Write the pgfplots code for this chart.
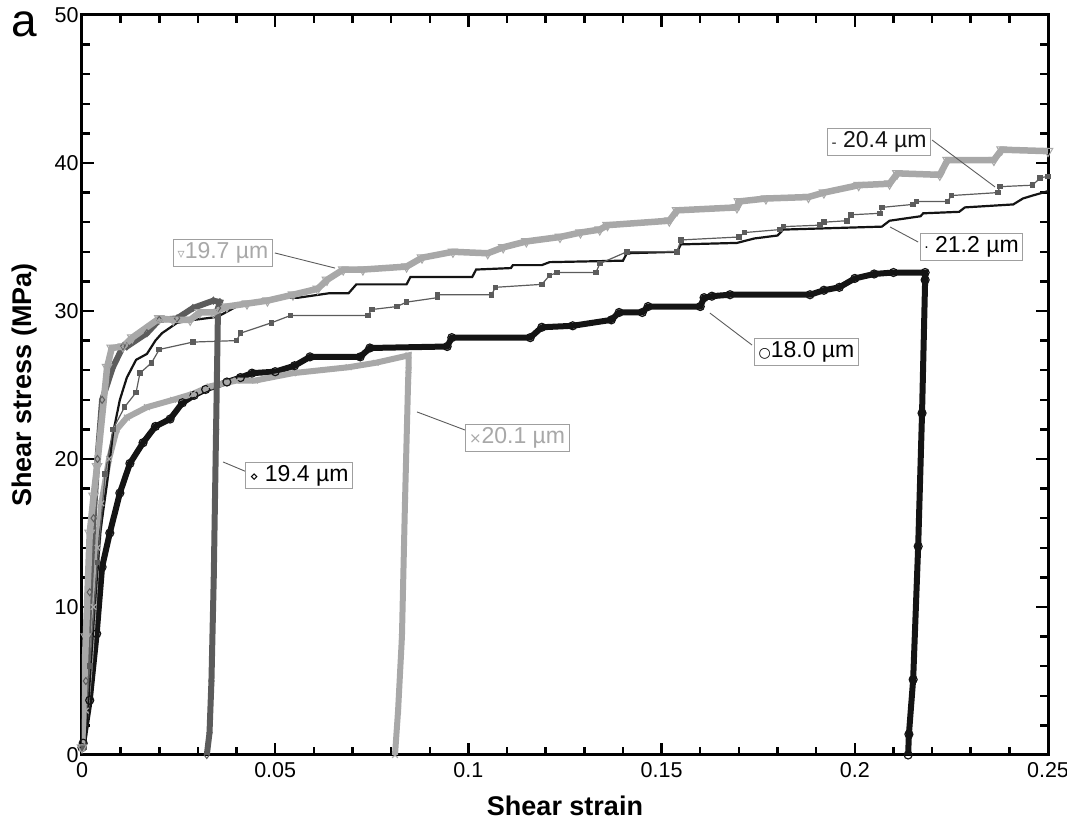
\documentclass[border=0pt]{standalone}
\usepackage{pgfplots}
\pgfplotsset{compat=1.18}
\usepackage{fontspec}
\setmainfont{Liberation Sans}
\newfontfamily\symfont{DejaVu Sans}
\definecolor{lg}{gray}{0.66}
\definecolor{dg}{gray}{0.36}
\definecolor{bk}{gray}{0.08}
\begin{document}
\begin{tikzpicture}
\begin{axis}[
  scale only axis, width=966pt, height=740pt,
  xmin=0, xmax=0.25, ymin=0, ymax=50,
  xtick={0,0.05,0.1,0.15,0.2,0.25},
  xticklabels={0,0.05,0.1,0.15,0.2,0.25},
  ytick={0,10,20,30,40,50},
  yticklabels={0,10,20,30,40,50},
  minor x tick num=4, minor y tick num=4,
  tick align=inside,
  major tick length=12pt, minor tick length=8pt,
  every tick/.style={line width=2.5pt, black},
  axis line style={line width=3pt},
  /pgf/number format/assume math mode=true,
  ticklabel style={font=\fontsize{21.5}{24}\selectfont},
  xticklabel style={yshift=-4pt},
  xlabel={Shear strain}, ylabel={Shear stress (MPa)},
  label style={font=\bfseries\fontsize{27}{30}\selectfont},
  xlabel style={at={(axis description cs:0.5,0)}, anchor=base, yshift=-60pt},
  ylabel style={at={(axis description cs:0,0.5)}, anchor=center, yshift=57pt},
]
% 18.0 um
\addplot[bk, line width=6pt, mark=o, mark size=4pt, mark options={line width=1.2pt, bk}] coordinates {
(0,0.5) (0.0003,0.8) (0.002,3.7) (0.0038,8.2) (0.0052,12.7) (0.0072,15) (0.0098,17.7)
(0.0124,19.7) (0.0158,21.1) (0.019,22.2) (0.0228,22.7) (0.026,23.8) (0.029,24.3)
(0.032,24.7) (0.0375,25.2) (0.041,25.5) (0.044,25.8) (0.05,25.9) (0.055,26.3)
(0.059,26.9) (0.072,26.9) (0.0745,27.5) (0.0945,27.6) (0.0957,28.2) (0.116,28.2)
(0.119,28.9) (0.127,29.0) (0.137,29.4) (0.139,29.9) (0.145,29.9) (0.1465,30.3)
(0.160,30.3) (0.161,30.9) (0.163,31.0) (0.1677,31.1) (0.1884,31.1) (0.192,31.4)
(0.196,31.6) (0.200,32.2) (0.205,32.5) (0.210,32.6) (0.2182,32.6)
(0.2182,32.1) (0.2174,23.1) (0.2164,14.1) (0.2151,5.1) (0.2140,1.4) (0.2138,0)
};
% 20.1 um
\addplot[lg, line width=6pt, mark=x, mark size=4pt, mark options={line width=1.2pt, lg}] coordinates {
(0,0.5) (0.001,3) (0.002,6) (0.003,10) (0.004,14) (0.005,17) (0.007,20) (0.009,22)
(0.0116,22.8) (0.0168,23.5) (0.0236,24) (0.0287,24.4) (0.033,24.9) (0.040,25.3)
(0.0448,25.3) (0.0546,25.8) (0.069,26.2) (0.076,26.5) (0.0845,27.0)
(0.0845,26) (0.0844,25.3) (0.0836,17.2) (0.0828,8) (0.0818,3) (0.081,0)
};
% 21.2 um
\addplot[bk, line width=2.2pt] coordinates {
(0.0008,0.5) (0.002,5) (0.003,9) (0.004,12.5) (0.0047,15) (0.0065,18.4) (0.008,21.7)
(0.0098,24) (0.0116,25.5) (0.014,26.7) (0.0168,27.1) (0.019,28) (0.0207,28.5)
(0.0246,29.2) (0.029,29.4) (0.035,29.6) (0.04,30.3) (0.05,30.9) (0.056,30.9)
(0.064,31.2) (0.069,31.2) (0.071,31.8) (0.084,31.8) (0.085,32.3) (0.101,32.3)
(0.102,32.8) (0.111,32.9) (0.1115,33.1) (0.119,33.1) (0.121,33.3) (0.14,33.4)
(0.141,33.9) (0.154,34) (0.155,34.5) (0.1695,34.6) (0.174,34.9) (0.18,35.1)
(0.1815,35.5) (0.207,35.7) (0.209,36.1) (0.217,36.4) (0.2177,36.6) (0.227,36.7)
(0.2285,37.0) (0.241,37.2) (0.2435,37.6) (0.246,37.8) (0.2487,38.0) (0.25,38.1)
};
% 20.4 um
\addplot[dg, line width=1.2pt, mark=square*, mark size=2.2pt, mark options={dg}] coordinates {
(0.0005,0.5) (0.002,6) (0.004,13) (0.006,19) (0.008,22) (0.011,23.5) (0.014,24.5)
(0.015,25.8) (0.018,26.5) (0.02,27.4) (0.0287,27.9) (0.040,28.0) (0.041,28.5)
(0.049,29.2) (0.054,29.7) (0.074,29.7) (0.075,30.1) (0.0815,30.3) (0.084,30.6)
(0.092,30.9) (0.092,31.1) (0.106,31.1) (0.107,31.6) (0.119,31.8) (0.121,32.4)
(0.123,32.6) (0.133,32.6) (0.134,33.2) (0.141,34.0) (0.154,34.0) (0.155,34.8)
(0.170,35.0) (0.1715,35.3) (0.1806,35.5) (0.1815,35.7) (0.191,35.8) (0.192,36.0)
(0.198,36.1) (0.199,36.5) (0.2065,36.6) (0.207,37.0) (0.215,37.2) (0.216,37.4)
(0.224,37.4) (0.225,37.8) (0.237,38.0) (0.2375,38.4) (0.246,38.5) (0.248,39.0) (0.25,39.1)
};
% 19.4 um
\addplot[dg, line width=6pt, mark=diamond, mark size=3.5pt, mark options={line width=1pt, dg}] coordinates {
(0,0.5) (0.001,5) (0.002,11) (0.003,16) (0.004,20) (0.0052,24) (0.008,26.2)
(0.0106,27.6) (0.0116,27.6) (0.0168,28.5) (0.020,29.4) (0.0246,29.5) (0.0287,30.2)
(0.034,30.7) (0.0357,30.6)
(0.0352,30.2) (0.0347,22) (0.0341,12) (0.0335,5) (0.033,1.5) (0.0323,0)
};
% 19.7 um
\addplot[lg, line width=6.5pt, mark=triangle, mark size=5.5pt, mark options={line width=1pt, lg, fill=white, rotate=180}] coordinates {
(0,0.5) (0.001,8) (0.002,15) (0.003,17.5) (0.0039,19.5) (0.0065,26.2) (0.0077,27.5)
(0.0106,27.6) (0.013,28.2) (0.020,29.5) (0.0236,29.4) (0.028,29.4) (0.0305,29.9)
(0.034,29.9) (0.0375,30.3) (0.0427,30.5) (0.048,30.7) (0.0546,31.1) (0.061,31.5)
(0.0634,32.1) (0.0676,32.8) (0.0727,32.8) (0.084,33.0) (0.088,33.6) (0.096,34.0)
(0.105,33.9) (0.109,34.3) (0.115,34.7) (0.1237,35.0) (0.129,35.3) (0.134,35.5)
(0.136,35.8) (0.152,36.1) (0.154,36.8) (0.1695,37.0) (0.170,37.4) (0.177,37.6)
(0.188,37.7) (0.192,38.0) (0.201,38.5) (0.209,38.6) (0.211,39.3) (0.222,39.2)
(0.224,40.2) (0.236,40.2) (0.238,40.9) (0.25,40.8)
};
% leader lines
\draw[dg, line width=0.9pt] (axis cs:0.0499,33.92) -- (axis cs:0.0655,32.9);
\draw[dg, line width=0.9pt] (axis cs:0.0427,19.12) -- (axis cs:0.0365,19.8);
\draw[dg, line width=0.9pt] (axis cs:0.0991,21.96) -- (axis cs:0.0867,23.18);
\draw[dg, line width=0.9pt] (axis cs:0.1734,27.70) -- (axis cs:0.1625,29.86);
\draw[dg, line width=0.9pt] (axis cs:0.2200,41.55) -- (axis cs:0.2363,38.38);
\draw[dg, line width=0.9pt] (axis cs:0.2164,34.66) -- (axis cs:0.2091,35.68);
% labels
\tikzset{lab/.style={draw=gray!75, line width=0.9pt, fill=white, inner xsep=4pt, inner ysep=3pt, font=\fontsize{23}{25}\selectfont}}
\node[lab, text=lg] at (axis cs:0.0365,33.92) {{\symfont\fontsize{14}{14}\selectfont ▿}19.7 µm};
\node[lab, text=black] at (axis cs:0.0562,18.89) {{\symfont\fontsize{14}{14}\selectfont ⋄} 19.4 µm};
\node[lab, text=lg] at (axis cs:0.1126,21.45) {{\symfont\fontsize{15}{15}\selectfont ×}20.1 µm};
\node[lab, text=black] at (axis cs:0.1875,27.26) {{\symfont\fontsize{14}{14}\selectfont ○}18.0 µm};
\node[lab, text=bk] at (axis cs:0.2063,41.42) {{\symfont\fontsize{14}{14}\selectfont -} 20.4 µm};
\node[lab, text=black] at (axis cs:0.2302,34.32) {{\symfont\fontsize{14}{14}\selectfont ·} 21.2 µm};
\end{axis}
\node[font=\fontsize{46}{48}\selectfont, anchor=base] at (-58pt,718pt) {a};
\pgfresetboundingbox
\path (-82pt,-71pt) rectangle (985pt,755pt);
\end{tikzpicture}
\end{document}
